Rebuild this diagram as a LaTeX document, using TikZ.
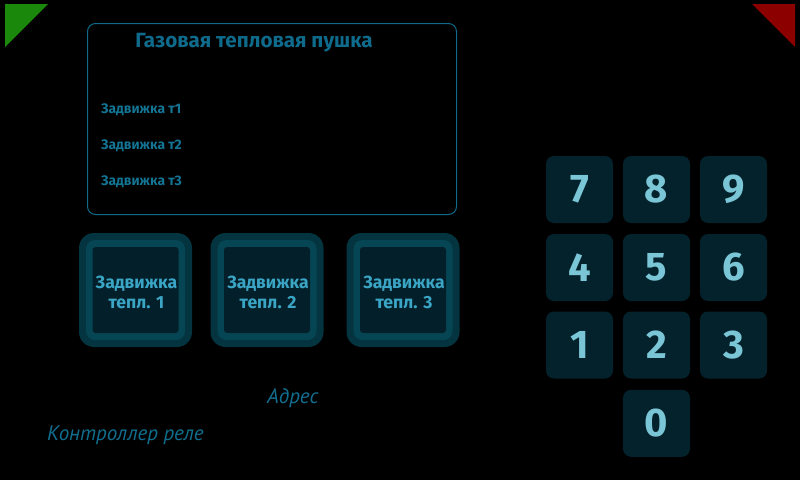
\documentclass[tikz,border=0pt]{standalone}
\usepackage{fontspec}
\setmainfont{Fira Sans}
\newfontfamily\ptsans{PT Sans}
\definecolor{trigreen}{RGB}{26,136,10}
\definecolor{trired}{RGB}{140,0,0}
\definecolor{panelc}{RGB}{16,104,138}
\definecolor{titlec}{RGB}{14,107,140}
\definecolor{labelc}{RGB}{19,116,148}
\definecolor{btnouter}{RGB}{3,52,63}
\definecolor{btnring}{RGB}{6,70,84}
\definecolor{btnfill}{RGB}{3,32,42}
\definecolor{btntext}{RGB}{58,165,197}
\definecolor{keyc}{RGB}{4,34,43}
\definecolor{digitc}{RGB}{122,198,214}
\definecolor{italc}{RGB}{17,110,143}
\begin{document}
\begin{tikzpicture}[x=1pt,y=-1pt,
  panelbox/.style={draw=panelc,line width=1pt,rounded corners=8pt,minimum width=369pt,minimum height=191pt,anchor=north west,inner sep=0pt},
  titletext/.style={text=titlec,font=\bfseries\fontsize{20.6}{24}\selectfont,anchor=base,inner sep=0pt},
  lbltext/.style={text=labelc,font=\bfseries\fontsize{13.8}{16}\selectfont,anchor=base west,inner sep=0pt},
  btnout/.style={fill=btnouter,rounded corners=15pt,minimum width=113pt,minimum height=114pt,inner sep=0pt},
  btnmid/.style={fill=btnring,rounded corners=9pt,minimum width=99pt,minimum height=100pt,inner sep=0pt},
  btnin/.style={fill=btnfill,rounded corners=3pt,minimum width=86pt,minimum height=86pt,inner sep=0pt},
  btntxt/.style={text=btntext,font=\bfseries\fontsize{17.6}{21}\selectfont,anchor=base,inner sep=0pt},
  keybox/.style={fill=keyc,rounded corners=8pt,minimum width=67pt,minimum height=67pt,inner sep=0pt,
    text=digitc,font=\bfseries\fontsize{40}{44}\selectfont},
  italtext/.style={text=italc,font=\ptsans\itshape\fontsize{21}{25}\selectfont,anchor=base west,inner sep=0pt}]
\fill[black] (0,0) rectangle (800,480);
\useasboundingbox (0,0) rectangle (800,480);
% corner triangles
\fill[trigreen] (5,4) -- (48,4) -- (5,47) -- cycle;
\fill[trired] (752,4) -- (795,4) -- (795,47) -- cycle;
% panel
\node[panelbox] (panel) at (87,23) {};
\node[titletext] (title) at (254,47) {Газовая тепловая пушка};
\node[lbltext] (l1) at (101,113) {Задвижка т1};
\node[lbltext] (l2) at (101,149) {Задвижка т2};
\node[lbltext] (l3) at (101,185) {Задвижка т3};
% buttons
\foreach \i/\cx in {1/135.5,2/267,3/403}{
  \node[btnout] (b\i o) at (\cx,290) {};
  \node[btnmid] (b\i r) at (\cx,290) {};
  \node[btnin] (b\i) at (\cx,290) {};
  \node[btntxt] (b\i t1) at (\cx+1,288) {Задвижка};
  \node[btntxt] (b\i t2) at (\cx+1,308.5) {тепл. \i};
}
% keypad
\node[keybox] (k7) at (579.5,189.5) {7};
\node[keybox] (k8) at (656.5,189.5) {8};
\node[keybox] (k9) at (733.5,189.5) {9};
\node[keybox] (k4) at (579.5,267.5) {4};
\node[keybox] (k5) at (656.5,267.5) {5};
\node[keybox] (k6) at (733.5,267.5) {6};
\node[keybox] (k1) at (579.5,345) {1};
\node[keybox] (k2) at (656.5,345) {2};
\node[keybox] (k3) at (733.5,345) {3};
\node[keybox] (k0) at (656.5,423.3) {0};
% bottom texts
\node[italtext] (addr) at (267,403) {Адрес};
\node[italtext] (relay) at (47,440) {Контроллер реле};
\end{tikzpicture}
\end{document}
